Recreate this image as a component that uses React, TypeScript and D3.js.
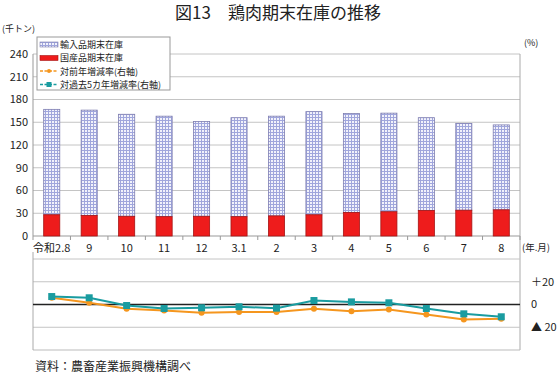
import React from "react";
import * as d3 from "d3";

const categories = ["令和2.8", "9", "10", "11", "12", "3.1", "2", "3", "4", "5", "6", "7", "8"];
const domesticStock = [28, 27, 26, 25.5, 26, 25.5, 26.5, 28, 31, 32, 33.5, 34, 34.5];
const importStock = [139, 139, 134.5, 132.5, 125, 130.5, 131.5, 136, 130.5, 130, 122.5, 114.5, 112];
const yoyRate = [6, 1.5, -3.8, -5.3, -7.3, -6.5, -6.5, -3.8, -5.9, -4.4, -8.8, -13.2, -12.6];
const fiveYearRate = [7, 5.9, -0.9, -3.5, -2.9, -2, -3.2, 3.5, 2.3, 1.5, -3.5, -8.2, -10.8];
const leftTicks = [0, 30, 60, 90, 120, 150, 180, 210, 240];
const rightTicks = [20, 0, -20];
const rightTickLabels = ["＋20", "0", "▲ 20"];
const legendLabels = ["輸入品期末在庫", "国産品期末在庫", "対前年増減率(右軸)", "対過去5カ年増減率(右軸)"];

const FONT = "'Noto Sans CJK JP', 'Noto Sans', sans-serif";
const ORANGE = "#f5961e";
const TEAL = "#1a9ca0";
const GRID = "#c4c4c4";

export default function App() {
  const W = 558, H = 378;
  const left = 33, right = 520;
  const x = d3.scaleBand<string>().domain(categories).range([left, right]).paddingInner(0.57).paddingOuter(0.285);
  const step = x.step();
  const yL = d3.scaleLinear().domain([0, 240]).range([236, 54]);
  const yR = d3.scaleLinear().domain([-40, 40]).range([350, 259]);
  const cx = (c: string) => (x(c) as number) + x.bandwidth() / 2;

  const line = d3.line<number>().x((_, i) => cx(categories[i])).y((d) => yR(d));

  return (
    <svg width={W} height={H} style={{ position: "absolute", left: 0, top: 0, background: "#fff" }} fontFamily={FONT}>
      <defs>
        <pattern id="grid" width="3" height="3" patternUnits="userSpaceOnUse">
          <rect width="3" height="3" fill="#f2f2fb" />
          <rect x="0" y="0" width="1" height="3" fill="#a0a6dc" />
          <rect x="0" y="0" width="3" height="1" fill="#a0a6dc" />
        </pattern>
      </defs>
      <rect width={W} height={H} fill="#fff" />
      {/* Title */}
      <text x={278} y={19} textAnchor="middle" fontSize={17} fill="#222">図13　鶏肉期末在庫の推移</text>

      {/* Top chart gridlines */}
      {leftTicks.filter((t) => t > 0).map((t) => (
        <line key={t} x1={left} x2={right} y1={yL(t)} y2={yL(t)} stroke={GRID} strokeWidth={1} />
      ))}
      <line x1={left} x2={right} y1={yL(0)} y2={yL(0)} stroke="#999" strokeWidth={1} />
      <line x1={left} x2={left} y1={yL(240)} y2={yL(0)} stroke="#999" />
      <line x1={right} x2={right} y1={yL(240)} y2={yR(-40)} stroke="#aaa" />
      {categories.map((c, i) => (
        <line key={"t" + i} x1={left + step * i} x2={left + step * i} y1={yL(0)} y2={yL(0) + 4} stroke="#999" />
      ))}
      <line x1={right} x2={right} y1={yL(0)} y2={yL(0) + 4} stroke="#999" />
      {leftTicks.map((t) => (
        <text key={"l" + t} x={28} y={yL(t)} dy="0.35em" textAnchor="end" fontSize={11} fill="#222">{t}</text>
      ))}
      <text x={2} y={32} fontSize={9} fill="#222">(千トン)</text>
      <text x={524} y={46} fontSize={9} fill="#222">(%)</text>

      {/* Bars */}
      {categories.map((c, i) => {
        const d = domesticStock[i];
        const im = importStock[i];
        return (
          <g key={"b" + i}>
            <rect x={x(c)} y={yL(d + im)} width={x.bandwidth()} height={yL(d) - yL(d + im)} fill="url(#grid)" stroke="#7d7db0" strokeWidth={0.8} />
            <rect x={x(c)} y={yL(d)} width={x.bandwidth()} height={yL(0) - yL(d)} fill="#ee1c1c" stroke="#a51515" strokeWidth={0.8} />
          </g>
        );
      })}

      {/* Category labels */}
      {categories.map((c) => (
        <text key={"c" + c} x={cx(c)} y={248} dy="0.35em" textAnchor="middle" fontSize={11} fill="#222">{c}</text>
      ))}
      <text x={522} y={248} dy="0.35em" fontSize={9.5} fill="#222">(年.月)</text>

      {/* Bottom chart */}
      {[40, 20, -20].map((t) => (
        <line key={"g" + t} x1={left} x2={right} y1={yR(t)} y2={yR(t)} stroke={GRID} />
      ))}
      <line x1={left} x2={right} y1={yR(-40)} y2={yR(-40)} stroke="#bbb" />
      <line x1={left} x2={left} y1={252} y2={yR(-40)} stroke="#aaa" />
      <line x1={left} x2={right} y1={yR(0)} y2={yR(0)} stroke="#222" strokeWidth={1.6} />
      {rightTicks.map((t, i) => (
        <text key={"r" + t} x={531} y={yR(t)} dy="0.35em" fontSize={11} fill="#222">{rightTickLabels[i]}</text>
      ))}

      <path d={line(yoyRate) || ""} fill="none" stroke={ORANGE} strokeWidth={2} />
      {yoyRate.map((v, i) => (
        <circle key={"o" + i} cx={cx(categories[i])} cy={yR(v)} r={3} fill={ORANGE} />
      ))}
      <path d={line(fiveYearRate) || ""} fill="none" stroke={TEAL} strokeWidth={2} />
      {fiveYearRate.map((v, i) => (
        <rect key={"s" + i} x={cx(categories[i]) - 3.5} y={yR(v) - 3.5} width={7} height={7} fill={TEAL} />
      ))}

      {/* Legend */}
      <rect x={37} y={37} width={133} height={53} fill="#fff" stroke="#999" />
      <rect x={40} y={42} width={18} height={5} fill="url(#grid)" stroke="#7d7db0" strokeWidth={0.6} />
      <rect x={40} y={55.5} width={18} height={5} fill="#ee1c1c" stroke="#a51515" strokeWidth={0.6} />
      <line x1={40} x2={58} y1={71} y2={71} stroke={ORANGE} strokeWidth={1.5} strokeDasharray="3,1.5" />
      <circle cx={49} cy={71} r={2} fill={ORANGE} />
      <line x1={40} x2={58} y1={84.5} y2={84.5} stroke={TEAL} strokeWidth={1.5} strokeDasharray="3,1.5" />
      <rect x={46.5} y={82} width={5} height={5} fill={TEAL} />
      {legendLabels.map((l, i) => (
        <text key={"lg" + i} x={60} y={44.5 + i * 13.5} dy="0.35em" fontSize={9} fill="#222">{l}</text>
      ))}

      <text x={35} y={367} dy="0.35em" fontSize={12} fill="#222">資料：農畜産業振興機構調べ</text>
    </svg>
  );
}
